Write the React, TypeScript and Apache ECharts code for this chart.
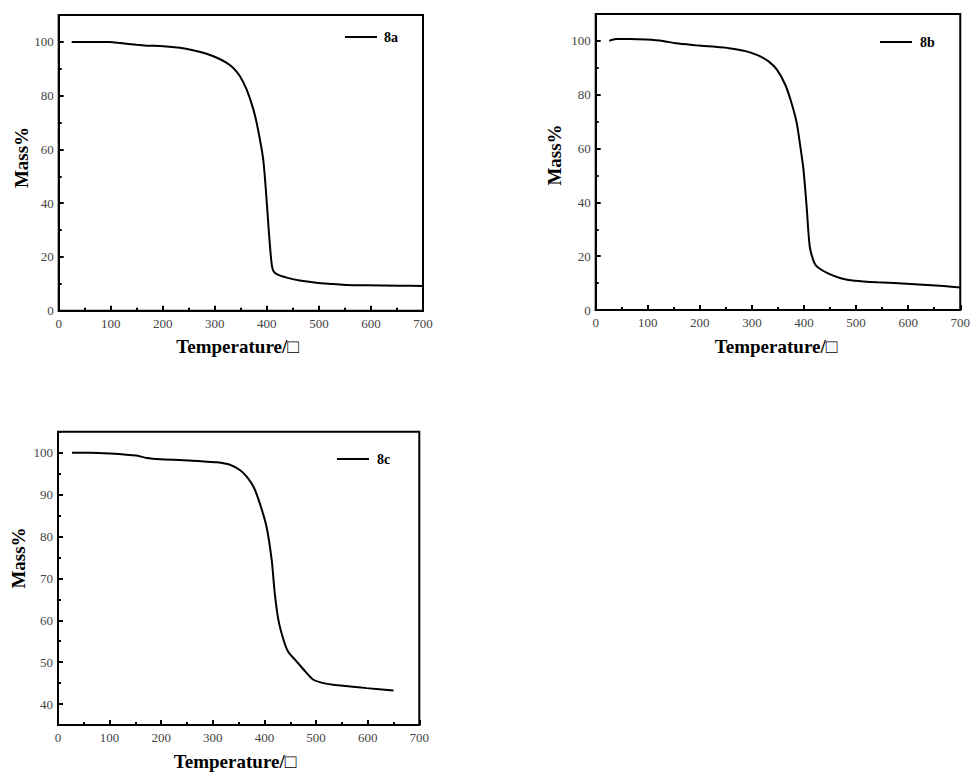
import React, { useEffect, useRef } from "react";
import * as echarts from "echarts";

// ---- Data ----
const tempA = [25, 98, 118, 150, 169, 201, 233, 258, 284, 303, 322, 335, 348, 361, 374, 383, 393, 399, 404, 409, 413, 422, 438, 463, 495, 527, 553, 591, 655, 700];
const massA = [100, 100, 99.6, 98.9, 98.6, 98.4, 97.8, 96.9, 95.6, 94.2, 92.3, 90.4, 87.3, 82.3, 74.9, 67.4, 56.2, 42.5, 28.9, 17.7, 14.6, 13.3, 12.3, 11.2, 10.4, 9.95, 9.6, 9.45, 9.3, 9.2];

const tempB = [26, 39, 65, 97, 129, 154, 192, 224, 256, 288, 313, 332, 348, 364, 376, 386, 392, 399, 405, 411, 420, 427, 446, 472, 497, 541, 605, 668, 700];
const massB = [100, 100.7, 100.7, 100.5, 100, 99.1, 98.4, 97.9, 97.3, 96.2, 94.5, 92.4, 89.3, 83.7, 76.9, 69.5, 62, 52.1, 38.5, 23.6, 17.4, 15.8, 13.6, 11.7, 10.9, 10.3, 9.7, 8.9, 8.4];

const tempC = [27, 62, 101, 152, 172, 198, 243, 282, 308, 333, 353, 366, 379, 391, 404, 414, 420, 427, 437, 446, 462, 479, 495, 514, 533, 566, 598, 650];
const massC = [100, 100, 99.8, 99.3, 98.7, 98.4, 98.2, 97.9, 97.7, 97.1, 95.8, 94.2, 91.8, 87.9, 82.3, 74.4, 66.4, 60.1, 55.3, 52.5, 50.2, 47.8, 45.8, 45.0, 44.6, 44.2, 43.8, 43.25];

const seriesNames = ["8a", "8b", "8c"];
const xTitle = "Temperature/□";
const yTitle = "Mass%";

// tick label values
const xTicks = [0, 100, 200, 300, 400, 500, 600, 700];
const yTicksAB = [0, 20, 40, 60, 80, 100];
const yTicksC = [40, 50, 60, 70, 80, 90, 100];

const SERIF = "Liberation Serif, Times New Roman, serif";

function pairs(xs: number[], ys: number[]) {
  return xs.map((x, i) => [x, ys[i]]);
}

export default function App() {
  const ref = useRef<HTMLDivElement>(null);

  useEffect(() => {
    if (!ref.current) return;
    const chart = echarts.init(ref.current, null, { renderer: "svg" });

    const grids = [
      { left: 58.7, top: 15, width: 364.3, height: 295.7 },
      { left: 595.7, top: 14, width: 367.6, height: 296 },
      { left: 58, top: 431.7, width: 361.3, height: 293.3 },
    ];
    const yRanges = [
      { min: 0, max: 110, ticks: yTicksAB, minor: 10 },
      { min: 0, max: 110, ticks: yTicksAB, minor: 10 },
      { min: 35, max: 105, ticks: yTicksC, minor: 5 },
    ];

    const xAxes: any[] = [];
    const yAxes: any[] = [];
    grids.forEach((_, i) => {
      xAxes.push({
        type: "value",
        gridIndex: i,
        min: 0,
        max: 700,
        interval: 100,
        axisLine: { show: true, onZero: false, lineStyle: { color: "#000", width: 2 } },
        axisTick: { show: true, inside: true, length: 5, lineStyle: { color: "#000", width: 2 } },
        minorTick: { show: true, splitNumber: 2, length: 3, lineStyle: { color: "#000", width: 2 } },
        axisLabel: { color: "#444", fontFamily: SERIF, fontSize: 13, margin: 6, customValues: xTicks },
        splitLine: { show: false },
        minorSplitLine: { show: false },
      });
      const r = yRanges[i];
      // major axis with labels
      yAxes.push({
        type: "value",
        gridIndex: i,
        min: r.min,
        max: r.max,
        interval: r.minor,
        axisLine: { show: true, onZero: false, lineStyle: { color: "#000", width: 2 } },
        axisTick: { show: true, inside: true, length: 5, customValues: r.ticks, lineStyle: { color: "#000", width: 2 } },
        axisLabel: {
          color: "#444",
          fontFamily: SERIF,
          fontSize: 13,
          margin: 5,
          customValues: r.ticks,
        },
        splitLine: { show: false },
      });
      // minor tick axis
      yAxes.push({
        type: "value",
        gridIndex: i,
        position: "left",
        min: r.min,
        max: r.max,
        interval: r.minor,
        axisLine: { show: false },
        axisTick: { show: true, inside: true, length: 3, lineStyle: { color: "#000", width: 2 } },
        axisLabel: { show: false },
        splitLine: { show: false },
      });
    });

    const lineStyle = { color: "#000", width: 2 };
    const datasets = [pairs(tempA, massA), pairs(tempB, massB), pairs(tempC, massC)];
    const series = datasets.map((d, i) => ({
      name: seriesNames[i],
      type: "line",
      xAxisIndex: i,
      yAxisIndex: i * 2,
      data: d,
      showSymbol: false,
      symbol: "none",
      smooth: 0.25,
      lineStyle,
      itemStyle: { color: "#000" },
    }));

    const legendPos = [
      { left: 345, top: 30, pad: 2 },
      { left: 880, top: 35, pad: 3 },
      { left: 337, top: 452, pad: 3 },
    ];
    const legends = legendPos.map((p, i) => ({
      data: [seriesNames[i]],
      left: p.left,
      top: p.top,
      padding: 0,
      icon: "rect",
      itemWidth: 32,
      itemHeight: 2,
      textStyle: {
        fontFamily: SERIF,
        fontWeight: "bold",
        fontSize: 14,
        color: "#000",
        lineHeight: 14,
        padding: [0, 0, 0, p.pad],
      },
    }));

    const titleStyle = {
      fontFamily: SERIF,
      fontWeight: "bold",
      fontSize: 19,
      fill: "#000",
      textAlign: "center",
      textVerticalAlign: "middle",
    };
    const xTitlePos = [
      [237.5, 346.7],
      [776, 346.7],
      [235, 761.7],
    ];
    const yTitlePos = [
      [21.7, 157.5],
      [554, 155],
      [18.3, 558],
    ];
    const graphic: any[] = [];
    xTitlePos.forEach(([x, y]) => {
      graphic.push({ type: "text", x, y, style: { ...titleStyle, text: xTitle } });
    });
    yTitlePos.forEach(([x, y]) => {
      graphic.push({ type: "text", x, y, rotation: Math.PI / 2, style: { ...titleStyle, text: yTitle } });
    });

    chart.setOption({
      animation: false,
      backgroundColor: "#fff",
      grid: grids.map((g) => ({ ...g, show: true, borderColor: "#000", borderWidth: 2, backgroundColor: "transparent" })),
      xAxis: xAxes,
      yAxis: yAxes,
      legend: legends,
      series,
      graphic,
    });

    return () => chart.dispose();
  }, []);

  return (
    <div
      ref={ref}
      style={{ position: "fixed", left: 0, top: 0, width: 973, height: 773, background: "#fff" }}
    />
  );
}
